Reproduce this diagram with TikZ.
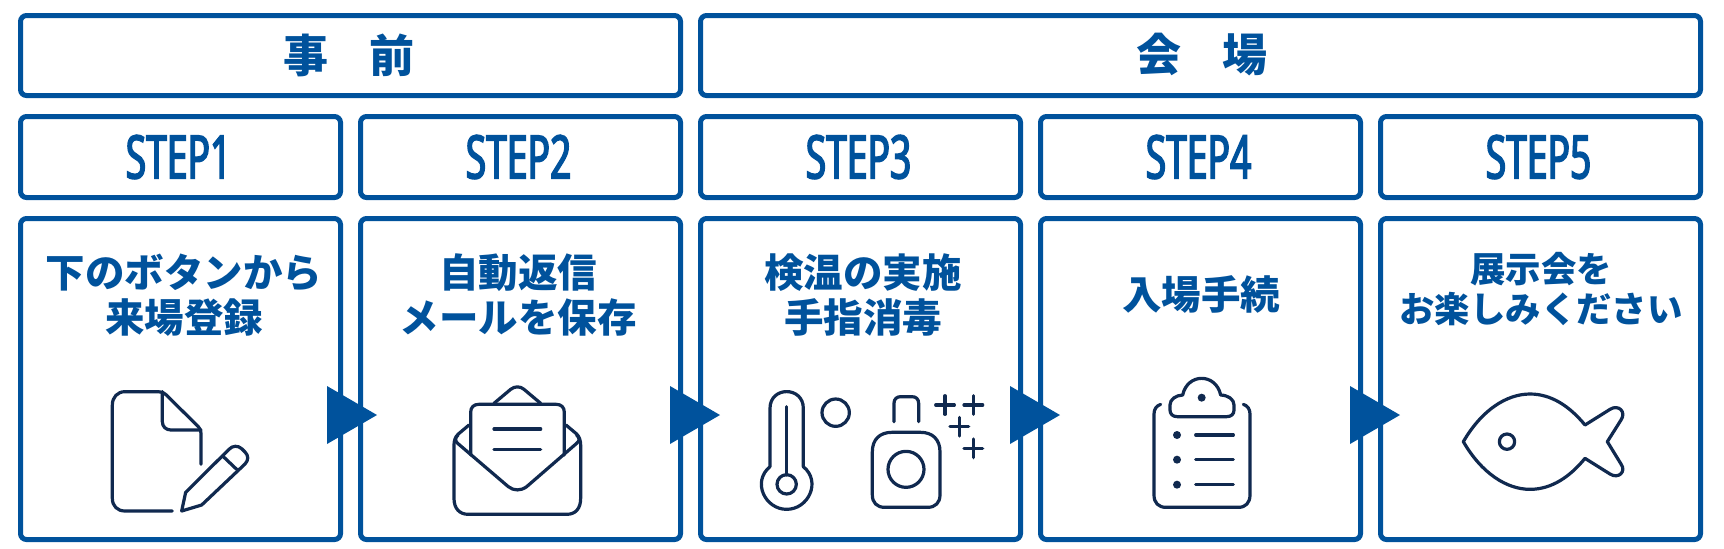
\documentclass[tikz,border=0pt]{standalone}
\usepackage{fontspec}
\newfontfamily\cjkfam{Noto Sans CJK JP}
\newfontfamily\stepfam[FakeStretch=0.62,FakeBold=2.5]{Noto Sans}
\definecolor{bluec}{HTML}{00529C}
\definecolor{navyc}{HTML}{10294F}
\tikzset{
 framebox/.style={draw=bluec,line width=2.5pt,rounded corners=3pt,fill=white,inner sep=0pt},
 headbox/.style={framebox,minimum height=40pt},
 stepbox/.style={framebox,minimum width=160pt,minimum height=40.5pt},
 mainbox/.style={framebox,minimum width=160pt,minimum height=160.5pt},
 headtext/.style={text=bluec,font=\cjkfam\bfseries\fontsize{22.5pt}{24pt}\selectfont,inner sep=0pt},
 steptext/.style={text=bluec,font=\stepfam\bfseries\fontsize{30pt}{32pt}\selectfont,inner sep=0pt},
 bodytext/.style={text=bluec,font=\cjkfam\bfseries\fontsize{19.75pt}{22.5pt}\selectfont,align=center,inner sep=0pt},
 smalltext/.style={text=bluec,font=\cjkfam\bfseries\fontsize{17.7pt}{20pt}\selectfont,align=center,inner sep=0pt},
 tri/.style={fill=bluec},
 icon/.style={draw=navyc,line width=1.6pt,line cap=round,line join=round},
 iconfill/.style={fill=navyc},
}
\begin{document}
\begin{tikzpicture}[x=0.5pt,y=-0.5pt]
\useasboundingbox (0,0) rectangle (1724,548);
% header
\node[headbox,minimum width=330pt] (hA) at (350.5,55.5) {};
\node[headbox,minimum width=500pt] (hB) at (1200.5,55.5) {};
\node[headtext] (hAt) at (349,55) {事\hspace{0.9em}前};
\node[headtext] (hBt) at (1202,55) {会\hspace{0.9em}場};
% steps
\foreach \n/\cx in {1/180.5,2/520.5,3/860.5,4/1200.5,5/1540.5}{
 \node[stepbox] (s\n) at (\cx,157) {};
 \node[mainbox] (m\n) at (\cx,379) {};
 \node[steptext] (st\n) at (\cx-2,157) {STEP\n};
}
\node[bodytext] (b1) at (184,295) {下のボタンから\\来場登録};
\node[bodytext] (b2) at (518,295) {自動返信\\メールを保存};
\node[bodytext] (b3) at (863,295) {検温の実施\\手指消毒};
\node[bodytext] (b4) at (1201,294) {入場手続};
\node[smalltext] (b5) at (1541,289) {展示会を\\お楽しみください};
% triangles
\fill[tri] (327,386) -- (377,415) -- (327,444) -- cycle;
\fill[tri] (670,386) -- (720,415) -- (670,444) -- cycle;
\fill[tri] (1010,386) -- (1060,415) -- (1010,444) -- cycle;
\fill[tri] (1350,386) -- (1400,415) -- (1350,444) -- cycle;
% icons 1-2
\begin{scope}[shift={(90,370)},scale=1/3]
 \draw[icon] (247,423) -- (105,423) .. controls (82,423) and (67,408) .. (67,385) -- (67,105) .. controls (67,82) and (82,65) .. (105,65) -- (205,65) .. controls (215,65) and (222,68) .. (228,74) -- (325,170) .. controls (331,176) and (333,182) .. (333,190) -- (333,283);
 \draw[icon] (217,65) -- (217,155) .. controls (217,170) and (228,180) .. (243,180) -- (333,180);
 \draw[icon] (275,423) -- (287,367) -- (417,238) .. controls (428,226) and (444,226) .. (455,236) -- (465,246) .. controls (476,257) and (476,270) .. (465,282) -- (335,405) -- cycle;
 \draw[icon] (398,258) -- (440,298);
 \draw[icon] (1137,165) -- (1105,192) .. controls (1096,200) and (1092,212) .. (1092,225) -- (1092,385) .. controls (1092,415) and (1108,433) .. (1135,433) -- (1430,433) .. controls (1457,433) and (1472,415) .. (1472,385) -- (1472,225) .. controls (1472,212) and (1468,200) .. (1460,192) -- (1428,165);
 \draw[icon] (1104,195) .. controls (1094,205) and (1095,213) .. (1103,220) -- (1255,350) .. controls (1272,363) and (1292,363) .. (1310,350) -- (1460,220) .. controls (1469,213) and (1470,205) .. (1460,195);
 \draw[icon] (1142,255) -- (1142,127) .. controls (1142,112) and (1151,103) .. (1166,103) -- (1399,103) .. controls (1414,103) and (1423,112) .. (1423,127) -- (1423,255);
 \draw[icon] (1212,100) -- (1262,58) .. controls (1275,48) and (1290,48) .. (1302,58) -- (1352,100);
 \draw[icon] (1212,177) -- (1352,177);
 \draw[icon] (1212,238) -- (1352,238);
\end{scope}
% icon 3
\begin{scope}[shift={(740,370)},scale=1/3]
 \draw[icon] (90,290) -- (90,115) .. controls (90,48) and (190,48) .. (190,115) -- (190,290) .. controls (245,335) and (205,418) .. (140,418) .. controls (75,418) and (35,335) .. (90,290);
 \draw[icon] (140,110) -- (140,315);
 \draw[icon] (140,343) circle[radius=29];
 \draw[icon] (287,128) circle[radius=41];
 \draw[icon] (462,155) -- (462,100) .. controls (462,87) and (470,80) .. (482,80) -- (516,80) .. controls (528,80) and (536,87) .. (536,100) -- (536,155);
 \draw[icon] (397,245) .. controls (397,208) and (420,187) .. (455,187) -- (542,187) .. controls (577,187) and (600,208) .. (600,245) -- (600,375) .. controls (600,398) and (586,412) .. (563,412) -- (434,412) .. controls (411,412) and (397,398) .. (397,375) -- cycle;
 \draw[icon] (498,298) circle[radius=54];
 \foreach \px/\py in {615/105,700/105,658/170,700/235}{
  \draw[icon] (\px-28,\py) -- (\px+28,\py);
  \draw[icon] (\px,\py-28) -- (\px,\py+28);
 }
\end{scope}
% icons 4-5
\begin{scope}[shift={(1130,370)},scale=1/3]
 \draw[icon] (92,103) .. controls (79,107) and (72,118) .. (72,132) -- (72,375) .. controls (72,398) and (85,412) .. (108,412) -- (325,412) .. controls (347,412) and (360,398) .. (360,375) -- (360,132) .. controls (360,118) and (353,107) .. (340,103);
 \draw[icon] (142,140) -- (290,140) .. controls (304,140) and (312,132) .. (312,120) -- (312,105) .. controls (312,88) and (295,76) .. (272,75) .. controls (265,42) and (240,25) .. (215,25) .. controls (190,25) and (165,42) .. (158,75) .. controls (137,76) and (120,88) .. (120,105) -- (120,120) .. controls (120,132) and (128,140) .. (142,140) -- cycle;
 \fill[iconfill] (215,83) circle[radius=12];
 \foreach \ly in {195,269,344}{
  \fill[iconfill] (141,\ly) circle[radius=12];
  \draw[icon] (197,\ly) -- (310,\ly);
 }
 \draw[icon] (1000,215) .. controls (1055,120) and (1130,72) .. (1200,72) .. controls (1265,72) and (1320,110) .. (1365,165) -- (1440,118) .. controls (1465,102) and (1490,125) .. (1473,150) -- (1432,215) -- (1473,282) .. controls (1490,305) and (1465,328) .. (1440,312) -- (1365,265) .. controls (1320,320) and (1265,358) .. (1200,358) .. controls (1130,358) and (1055,310) .. (1000,215) -- cycle;
 \draw[icon] (1131,215) circle[radius=23];
\end{scope}
\end{tikzpicture}
\end{document}
